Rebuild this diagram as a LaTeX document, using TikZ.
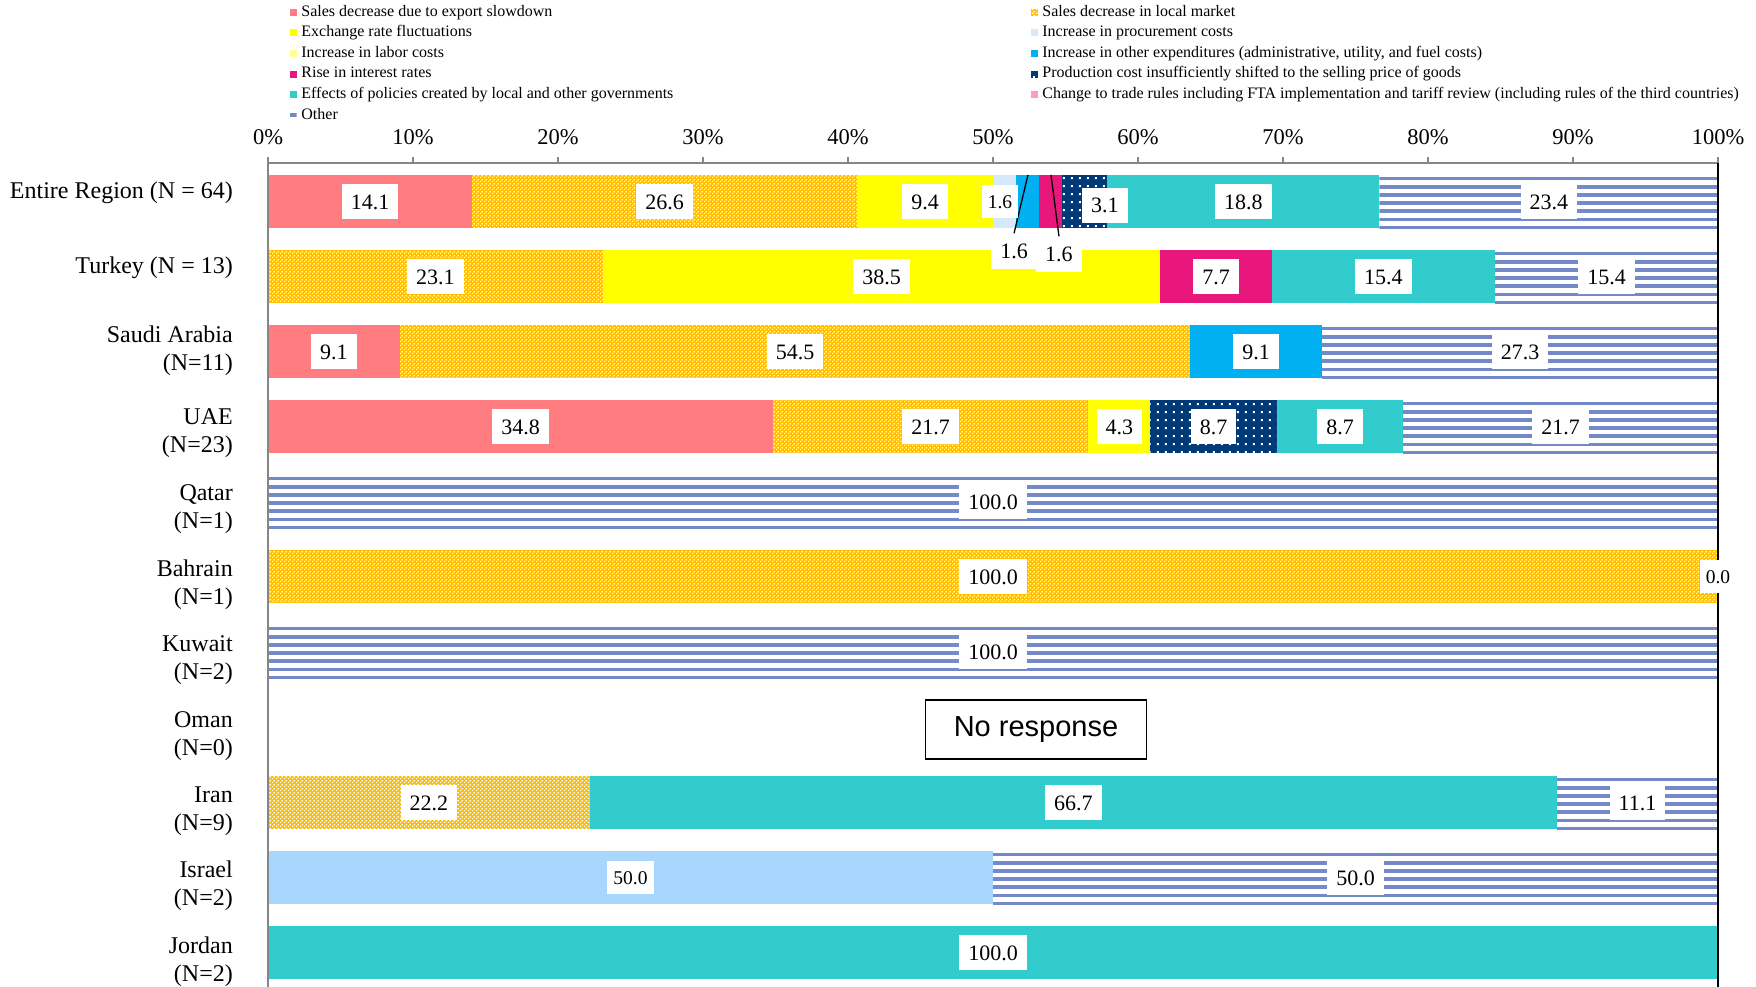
\documentclass[tikz,border=0pt]{standalone}
\usepackage{fontspec}
\setmainfont{Liberation Serif}
\newfontfamily\boxfont{Liberation Sans}
\usepackage{tikz}
\usetikzlibrary{patterns,positioning}
\definecolor{cexport}{HTML}{FF7C80}
\definecolor{clocal}{HTML}{FFC000}
\definecolor{cfx}{HTML}{FFFF00}
\definecolor{cproc}{HTML}{D6E9FA}
\definecolor{clabor}{HTML}{FFFF99}
\definecolor{coexp}{HTML}{00B0F0}
\definecolor{crate}{HTML}{E9177C}
\definecolor{cprod}{HTML}{003A78}
\definecolor{cpolicy}{HTML}{33CCCC}
\definecolor{cfta}{HTML}{FF99CC}
\definecolor{cother}{HTML}{7389C8}
\definecolor{cisrael}{HTML}{A9D6FC}
\definecolor{axisgray}{HTML}{868686}
% fill patterns of the bars
\pgfdeclarepatternformonly{smallcheck}{\pgfpointorigin}{\pgfqpoint{4pt}{4pt}}{\pgfqpoint{4pt}{4pt}}{%
  \pgfpathrectangle{\pgfpointorigin}{\pgfqpoint{1.5pt}{1.5pt}}%
  \pgfpathrectangle{\pgfqpoint{2pt}{2pt}}{\pgfqpoint{1.5pt}{1.5pt}}%
  \pgfusepath{fill}}
\pgfdeclarepatternformonly{whitedots}{\pgfpointorigin}{\pgfqpoint{7.8pt}{7.8pt}}{\pgfqpoint{7.8pt}{7.8pt}}{%
  \pgfpathrectangle{\pgfqpoint{3pt}{3pt}}{\pgfqpoint{2pt}{2pt}}%
  \pgfusepath{fill}}
\tikzset{
  sexport/.style={fill=cexport},
  slocal/.style={preaction={fill=clocal}, pattern=smallcheck, pattern color=white},
  sfx/.style={fill=cfx},
  sproc/.style={fill=cproc},
  slabor/.style={fill=clabor},
  soexp/.style={fill=coexp},
  srate/.style={fill=crate},
  sprod/.style={preaction={fill=cprod}, pattern=whitedots, pattern color=white},
  spolicy/.style={fill=cpolicy},
  sfta/.style={fill=cfta},
  sother/.style={fill=white, path picture={
      \foreach \k in {0,...,6}
        \fill[cother] ([yshift=-\k*8.2pt-1.5pt]path picture bounding box.north west)
          rectangle ([yshift=-\k*8.2pt-5.3pt]path picture bounding box.north east);}},
  sisrael/.style={fill=cisrael},
  vallbl/.style={fill=white, inner xsep=9pt, inner ysep=0pt, minimum height=35pt,
                 text height=15pt, text depth=0pt, font=\fontsize{22}{24}\selectfont},
  valsm/.style={vallbl, inner xsep=6pt, minimum height=33pt, text height=13.5pt,
                font=\fontsize{19.5}{22}\selectfont},
  catlbl/.style={anchor=east, align=right, inner sep=0pt, font=\fontsize{24}{28}\selectfont},
  ticklbl/.style={inner sep=0pt, font=\fontsize{22.5}{24}\selectfont},
  legkey/.style={minimum size=7pt, inner sep=0pt},
  legtext/.style={inner sep=0pt, text height=10.5pt, text depth=3pt, font=\fontsize{16}{18}\selectfont},
  leader/.style={line width=1.3pt, draw=black},
}
\begin{document}
\begin{tikzpicture}[x=1pt, y=-1pt, node distance=4.5pt]
  \useasboundingbox (0,0) rectangle (1756,986);
  % legend
  \node[legkey, sexport] (kexport) at (293,12.3) {};
  \node[legkey, sfx] (kfx) at (293,32.9) {};
  \node[legkey, slabor] (klabor) at (293,53.5) {};
  \node[legkey, srate] (krate) at (293,74.1) {};
  \node[legkey, spolicy] (kpolicy) at (293,94.7) {};
  \node[legkey, sother] (kother) at (293,115.3) {};
  \node[legkey, slocal] (klocal) at (1034,12.3) {};
  \node[legkey, sproc] (kproc) at (1034,32.9) {};
  \node[legkey, soexp] (koexp) at (1034,53.5) {};
  \node[legkey, sprod] (kprod) at (1034,74.1) {};
  \node[legkey, sfta] (kfta) at (1034,94.7) {};
  \node[legtext, right=of kexport] {Sales decrease due to export slowdown};
  \node[legtext, right=of kfx] {Exchange rate fluctuations};
  \node[legtext, right=of klabor] {Increase in labor costs};
  \node[legtext, right=of krate] {Rise in interest rates};
  \node[legtext, right=of kpolicy] {Effects of policies created by local and other governments};
  \node[legtext, right=of kother] {Other};
  \node[legtext, right=of klocal] {Sales decrease in local market};
  \node[legtext, right=of kproc] {Increase in procurement costs};
  \node[legtext, right=of koexp] {Increase in other expenditures (administrative, utility, and fuel costs)};
  \node[legtext, right=of kprod] {Production cost insufficiently shifted to the selling price of goods};
  \node[legtext, right=of kfta] {Change to trade rules including FTA implementation and tariff review (including rules of the third countries)};

  % row names
  \node[catlbl] (nall) at (233,192.5) {Entire Region (N = 64)};
  \node[catlbl] (ntur) at (233,267.5) {Turkey (N = 13)};
  \node[catlbl] (nsau) at (233,351) {Saudi Arabia\\(N=11)};
  \node[catlbl] (nuae) at (233,433) {UAE\\(N=23)};
  \node[catlbl] (nqat) at (233,509) {Qatar\\(N=1)};
  \node[catlbl] (nbah) at (233,584.5) {Bahrain\\(N=1)};
  \node[catlbl] (nkuw) at (233,660.5) {Kuwait\\(N=2)};
  \node[catlbl] (noma) at (233,736) {Oman\\(N=0)};
  \node[catlbl] (niran) at (233,811) {Iran\\(N=9)};
  \node[catlbl] (nisr) at (233,886) {Israel\\(N=2)};
  \node[catlbl] (njor) at (233,962) {Jordan\\(N=2)};

  \begin{scope}[shift={(268,0)}, x=14.5pt]
    % Entire Region
    \fill[sexport] (0,175) rectangle (14.07,228);
    \fill[slocal] (14.07,175) rectangle (40.62,228);
    \fill[sfx] (40.62,175) rectangle (50.00,228);
    \fill[sproc] (50.00,175) rectangle (51.60,228);
    \fill[soexp] (51.60,175) rectangle (53.19,228);
    \fill[srate] (53.19,175) rectangle (54.79,228);
    \fill[sprod] (54.79,175) rectangle (57.88,228);
    \fill[spolicy] (57.88,175) rectangle (76.65,228);
    \fill[sother] (76.65,175) rectangle (100,228);
    % Turkey
    \fill[slocal] (0,250) rectangle (23.08,303);
    \fill[sfx] (23.08,250) rectangle (61.54,303);
    \fill[srate] (61.54,250) rectangle (69.23,303);
    \fill[spolicy] (69.23,250) rectangle (84.62,303);
    \fill[sother] (84.62,250) rectangle (100,303);
    % Saudi Arabia
    \fill[sexport] (0,325) rectangle (9.1,378);
    \fill[slocal] (9.1,325) rectangle (63.6,378);
    \fill[soexp] (63.6,325) rectangle (72.7,378);
    \fill[sother] (72.7,325) rectangle (100,378);
    % UAE
    \fill[sexport] (0,400) rectangle (34.83,453);
    \fill[slocal] (34.83,400) rectangle (56.56,453);
    \fill[sfx] (56.56,400) rectangle (60.86,453);
    \fill[sprod] (60.86,400) rectangle (69.57,453);
    \fill[spolicy] (69.57,400) rectangle (78.28,453);
    \fill[sother] (78.28,400) rectangle (100,453);
    % Qatar, Bahrain, Kuwait
    \fill[sother] (0,475) rectangle (100,528);
    \fill[slocal] (0,550) rectangle (100,603);
    \fill[sother] (0,625) rectangle (100,678);
    % Iran, Israel, Jordan
    \fill[slocal] (0,776) rectangle (22.2,829);
    \fill[spolicy] (22.2,776) rectangle (88.9,829);
    \fill[sother] (88.9,776) rectangle (100,829);
    \fill[sisrael] (0,851) rectangle (50,904);
    \fill[sother] (50,851) rectangle (100,904);
    \fill[spolicy] (0,926) rectangle (100,979);

    % axes
    \draw[axisgray, line width=2pt] (0,163) -- (100,163);
    \foreach \p in {0,10,...,100} {
      \draw[axisgray, line width=1.5pt] (\p,157) -- (\p,163);
      \node[ticklbl] at (\p,137) {\p\%};
    }
    \draw[axisgray, line width=2pt] (0,163) -- (0,990);
    \draw[black, line width=2pt] (100,163) -- (100,990);

    % values
    \coordinate (ldA) at (52.41,175);
    \coordinate (ldB) at (54.00,175);
    \node[vallbl] (v0pb) at (51.45,251) {1.6};
    \node[vallbl] (v0pc) at (54.55,254) {1.6};
    \draw[leader] (ldA) -- (v0pb.north);
    \draw[leader] (ldB) -- (v0pc.north);
    \node[vallbl] (v0a) at (7.04,201.5) {14.1};
    \node[vallbl] (v0b) at (27.35,201.5) {26.6};
    \node[vallbl] (v0c) at (45.31,201.5) {9.4};
    \node[valsm] (v0pa) at (50.48,201.5) {1.6};
    \node[vallbl] (v0d) at (57.72,205) {3.1};
    \node[vallbl] (v0e) at (67.27,201.5) {18.8};
    \node[vallbl] (v0f) at (88.33,201.5) {23.4};

    \node[vallbl] (v1a) at (11.54,276.5) {23.1};
    \node[vallbl] (v1b) at (42.31,276.5) {38.5};
    \node[vallbl] (v1c) at (65.38,276.5) {7.7};
    \node[vallbl] (v1d) at (76.92,276.5) {15.4};
    \node[vallbl] (v1e) at (92.31,276.5) {15.4};

    \node[vallbl] (v2a) at (4.55,351.5) {9.1};
    \node[vallbl] (v2b) at (36.35,351.5) {54.5};
    \node[vallbl] (v2c) at (68.15,351.5) {9.1};
    \node[vallbl] (v2d) at (86.35,351.5) {27.3};

    \node[vallbl] (v3a) at (17.42,426.5) {34.8};
    \node[vallbl] (v3b) at (45.70,426.5) {21.7};
    \node[vallbl] (v3c) at (58.71,426.5) {4.3};
    \node[vallbl] (v3d) at (65.22,426.5) {8.7};
    \node[vallbl] (v3e) at (73.93,426.5) {8.7};
    \node[vallbl] (v3f) at (89.14,426.5) {21.7};

    \node[vallbl] (v4a) at (50,501.5) {100.0};
    \node[vallbl] (v5a) at (50,576.5) {100.0};
    \node[valsm] (v5b) at (100,576.5) {0.0};
    \node[vallbl] (v6a) at (50,651.5) {100.0};

    \node[vallbl] (v8a) at (11.1,802.5) {22.2};
    \node[vallbl] (v8b) at (55.55,802.5) {66.7};
    \node[vallbl] (v8c) at (94.45,802.5) {11.1};
    \node[valsm] (v9a) at (25,877.5) {50.0};
    \node[vallbl] (v9b) at (75,877.5) {50.0};
    \node[vallbl] (v10a) at (50,952.5) {100.0};
  \end{scope}

  % Oman has no bar
  \node[draw=black, line width=1.3pt, minimum width=221pt, minimum height=59pt,
        font=\boxfont\fontsize{29}{32}\selectfont] (noresp) at (1036,729.5) {No response};
\end{tikzpicture}
\end{document}
